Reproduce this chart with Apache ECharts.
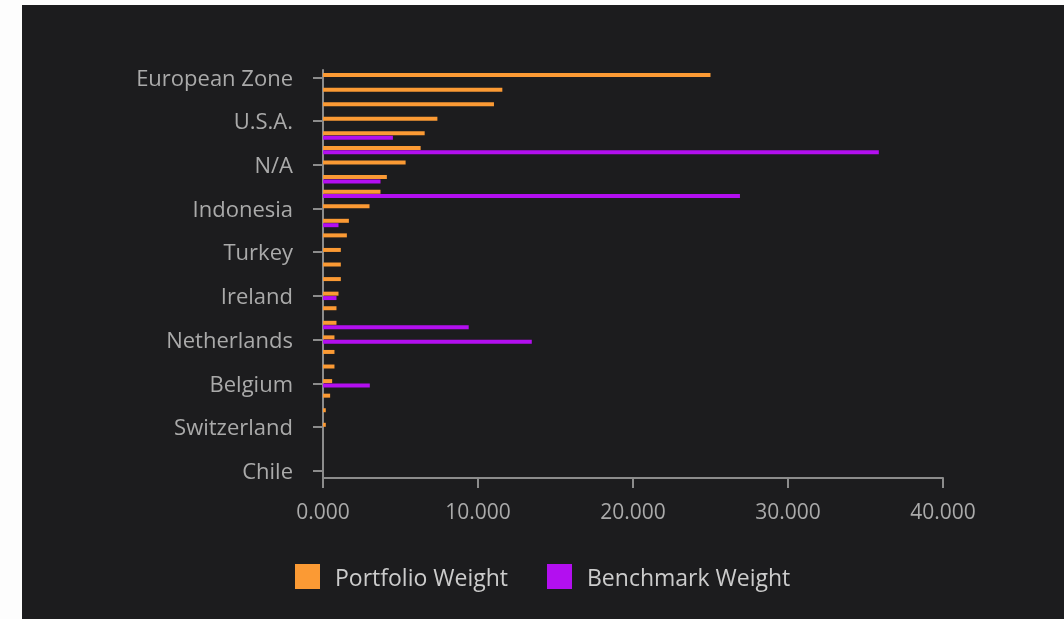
<!DOCTYPE html>
<html>
<head>
<meta charset="utf-8">
<script src="https://cdn.jsdelivr.net/npm/echarts@6/dist/echarts.min.js"></script>
<style>
  html, body { margin: 0; padding: 0; background: #fdfdfd; }
  #chart { position: absolute; left: 22px; top: 5px; width: 1042px; height: 614px; background: #1c1c1e; }
</style>
</head>
<body>
<div id="chart"></div>
<script>
const categories = [
  "European Zone", "United Kingdom", "France", "U.S.A.", "Canada", "China",
  "N/A", "Brazil", "India", "Indonesia", "Mexico", "South Africa",
  "Turkey", "Poland", "Hungary", "Ireland", "Spain", "Taiwan",
  "Netherlands", "Italy", "Greece", "Belgium", "Sweden", "Denmark",
  "Switzerland", "Norway", "Peru", "Chile"
];
const portfolioWeight = [
  25.0, 11.57, 11.03, 7.38, 6.56, 6.30,
  5.33, 4.12, 3.71, 3.00, 1.67, 1.54,
  1.15, 1.15, 1.15, 1.00, 0.87, 0.87,
  0.74, 0.74, 0.74, 0.59, 0.46, 0.18,
  0.18, 0, 0, 0
];
const benchmarkWeight = [
  0, 0, 0, 0, 4.51, 35.86,
  0, 3.71, 26.9, 0, 1.0, 0,
  0, 0, 0, 0.87, 0, 9.4,
  13.47, 0, 0, 3.02, 0, 0,
  0, 0, 0, 0
];
const xTicks = { min: 0, max: 40, interval: 10 };

const chart = echarts.init(document.getElementById('chart'));
const FONT = '"Open Sans", sans-serif';
chart.setOption({
  backgroundColor: '#1c1c1e',
  animation: false,
  grid: { left: 301, right: 121, top: 65, bottom: 141, containLabel: false },
  legend: {
    left: 273, top: 559, padding: 0,
    itemWidth: 25, itemHeight: 25, itemGap: 39,
    icon: 'rect',
    formatter: '{t|{name}}',
    textStyle: { color: '#cccccc', fontSize: 23, fontFamily: FONT,
      rich: { t: { color: '#cccccc', fontSize: 23, fontFamily: FONT, padding: [5, 0, 0, 10] } } },
    data: ['Portfolio Weight', 'Benchmark Weight']
  },
  xAxis: {
    type: 'value', min: xTicks.min, max: xTicks.max, interval: xTicks.interval,
    axisLine: { show: true, lineStyle: { color: '#8c8c8c', width: 2 } },
    axisTick: { show: true, length: 10, lineStyle: { color: '#8c8c8c', width: 2 } },
    splitLine: { show: false },
    axisLabel: { color: '#aaaaaa', fontSize: 21, fontFamily: FONT, margin: 25,
      formatter: v => v.toFixed(3) }
  },
  yAxis: {
    type: 'category', inverse: true, data: categories,
    axisLine: { show: true, lineStyle: { color: '#8c8c8c', width: 2 } },
    axisTick: { show: true, length: 10, interval: 2, alignWithLabel: true, lineStyle: { color: '#8c8c8c', width: 2 } },
    axisLabel: { color: '#aaaaaa', fontSize: 22, fontFamily: FONT, margin: 30, interval: 2,
      verticalAlign: 'top', lineHeight: 4 }
  },
  series: [
    { name: 'Portfolio Weight', type: 'bar', data: portfolioWeight, barWidth: 4, barGap: '10%',
      itemStyle: { color: '#fb9a34' } },
    { name: 'Benchmark Weight', type: 'bar', data: benchmarkWeight, barWidth: 4, barGap: '10%',
      itemStyle: { color: '#b30ff0' } }
  ]
});
</script>
</body>
</html>
